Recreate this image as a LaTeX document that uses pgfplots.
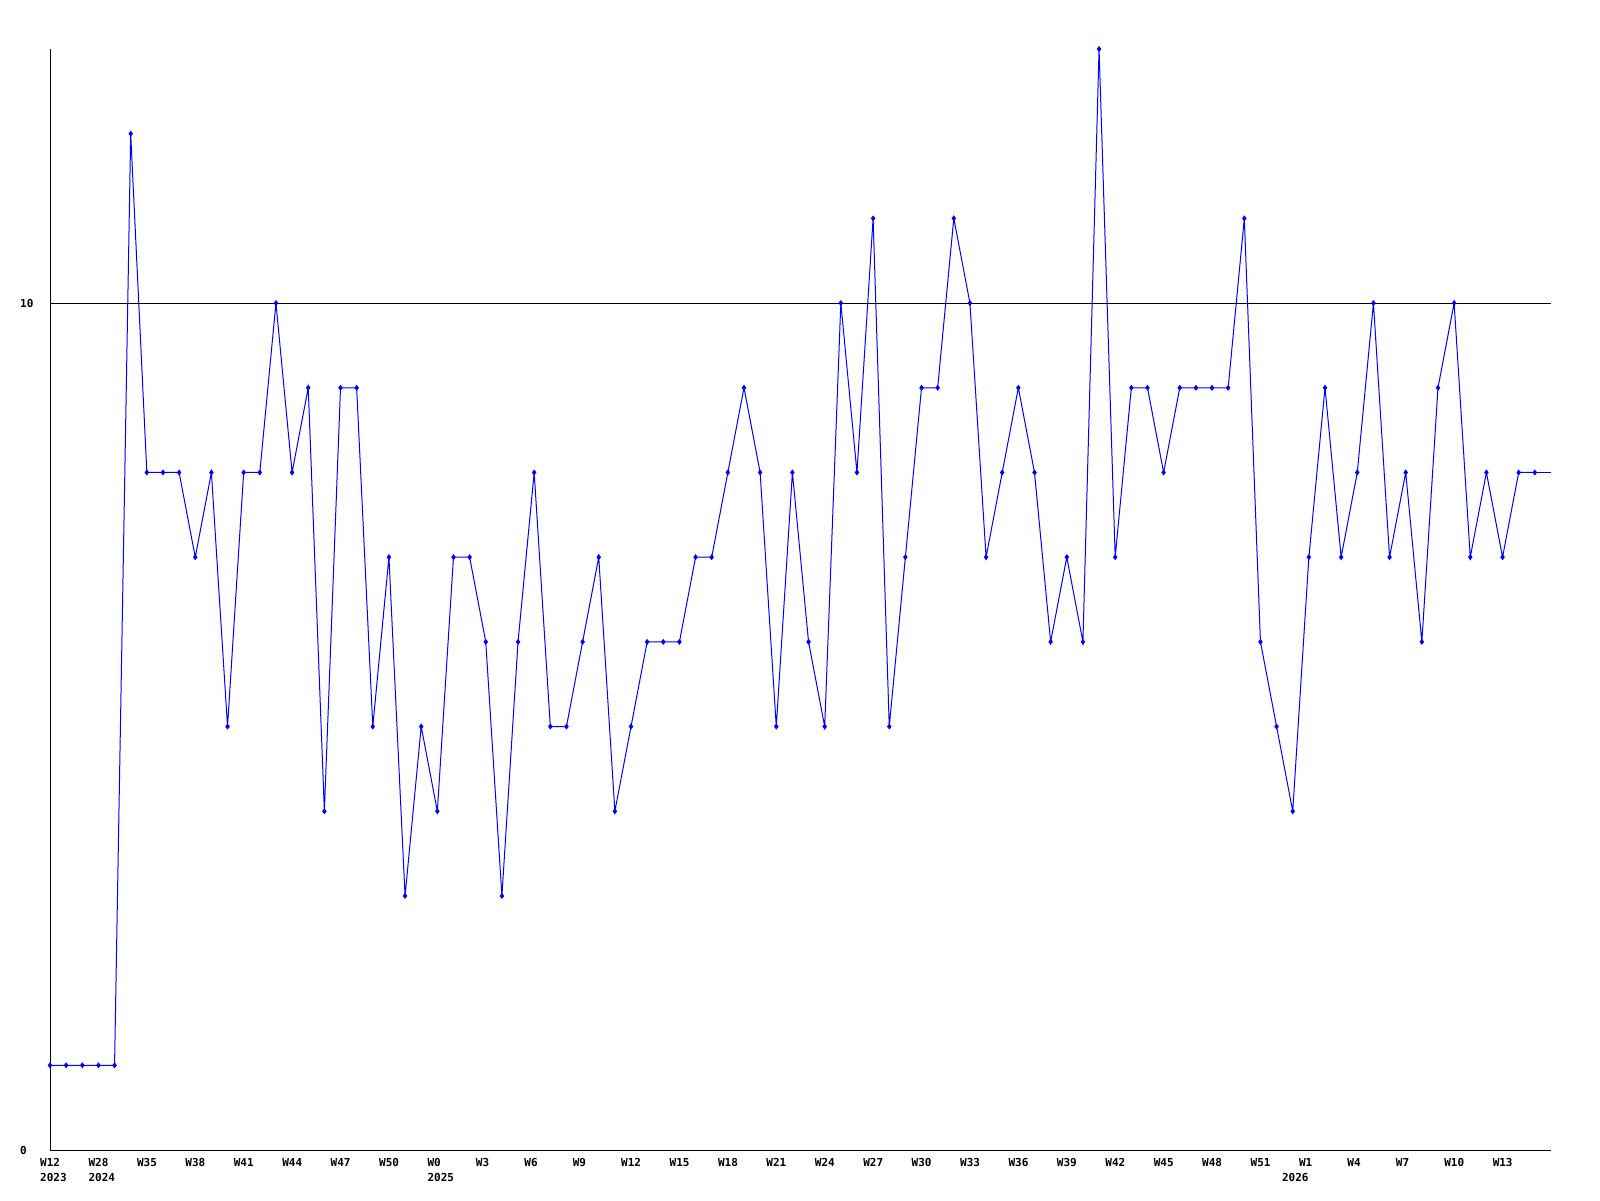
\documentclass[border=0pt]{standalone}
\usepackage{pgfplots}
\pgfplotsset{compat=1.18}
\usepackage{fontspec}
\setmonofont{DejaVu Sans Mono}
\pgfplotstableread{
x y
0 1
1 1
2 1
3 1
4 1
5 12
6 8
7 8
8 8
9 7
10 8
11 5
12 8
13 8
14 10
15 8
16 9
17 4
18 9
19 9
20 5
21 7
22 3
23 5
24 4
25 7
26 7
27 6
28 3
29 6
30 8
31 5
32 5
33 6
34 7
35 4
36 5
37 6
38 6
39 6
40 7
41 7
42 8
43 9
44 8
45 5
46 8
47 6
48 5
49 10
50 8
51 11
52 5
53 7
54 9
55 9
56 11
57 10
58 7
59 8
60 9
61 8
62 6
63 7
64 6
65 13
66 7
67 9
68 9
69 8
70 9
71 9
72 9
73 9
74 11
75 6
76 5
77 4
78 7
79 9
80 7
81 8
82 10
83 7
84 8
85 6
86 9
87 10
88 7
89 8
90 7
91 8
92 8
}\weekdata
\begin{document}
\begin{tikzpicture}
\useasboundingbox (0,0) rectangle (1600pt,1200pt);
\begin{axis}[
  at={(50pt,50pt)}, anchor=south west,
  scale only axis, width=1501pt, height=1101pt,
  xmin=0, xmax=93, ymin=0, ymax=13,
  axis x line=bottom, axis y line=left,
  axis line style={-, black, line width=1pt},
  xtick={0,3,...,90},
  xticklabels={{W12\\2023},{W28\\2024},W35,W38,W41,W44,W47,W50,{W0\\2025},W3,W6,W9,W12,W15,W18,W21,W24,W27,W30,W33,W36,W39,W42,W45,W48,W51,{W1\\\hspace*{-17pt}2026},W4,W7,W10,W13},
  ytick={0,10},
  yticklabels={0,10},
  major tick length=0pt,
  ymajorgrids, grid style={black, line width=1pt},
  xticklabel style={anchor=north west, inner sep=0pt, align=left, xshift=-10pt, yshift=-8pt, font=\fontsize{11}{15}\selectfont\ttfamily\bfseries},
  yticklabel style={anchor=west, inner sep=0pt, xshift=-30pt, font=\fontsize{11}{15}\selectfont\ttfamily\bfseries},
  clip=false,
]
\addplot[color={rgb,255:red,0;green,0;blue,255}, line width=1pt, mark=diamond*, mark size=2.2pt, mark options={solid}] table[x=x,y=y] {\weekdata};
\addplot[color={rgb,255:red,0;green,0;blue,255}, line width=1pt, mark=none] coordinates {(92,8) (93,8)};
\end{axis}
\end{tikzpicture}
\end{document}
